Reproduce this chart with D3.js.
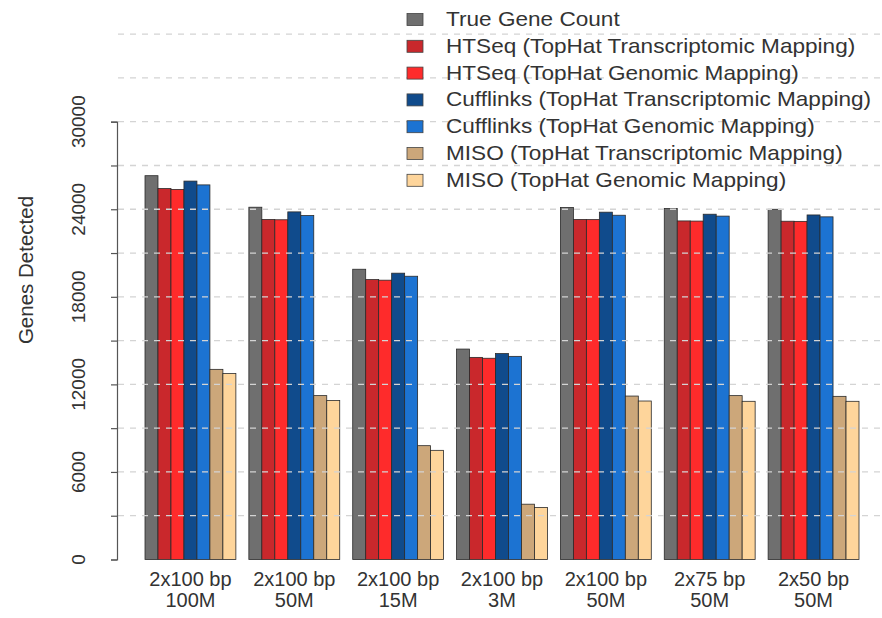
<!DOCTYPE html>
<html>
<head>
<meta charset="utf-8">
<script src="https://cdn.jsdelivr.net/npm/d3@7"></script>
<style>
  body { margin: 0; background: #fff; }
  svg { display: block; font-family: "Liberation Sans", Arial, Helvetica, sans-serif; }
</style>
</head>
<body>
<div id="chart"></div>
<script>
const groups = ["2x100 bp|100M", "2x100 bp|50M", "2x100 bp|15M", "2x100 bp|3M", "2x100 bp|50M ", "2x75 bp|50M", "2x50 bp|50M"];

const seriesNames = [
  "True Gene Count",
  "HTSeq (TopHat Transcriptomic Mapping)",
  "HTSeq (TopHat Genomic Mapping)",
  "Cufflinks (TopHat Transcriptomic Mapping)",
  "Cufflinks (TopHat Genomic Mapping)",
  "MISO (TopHat Transcriptomic Mapping)",
  "MISO (TopHat Genomic Mapping)"
];

const seriesColors = ["#6f6f6f", "#c9282c", "#fe2b2b", "#104b8c", "#1c73d2", "#cca77a", "#fed59b"];

// one array per series, values per group
const trueCount     = [26300, 24140, 19890, 14420, 24120, 24050, 24000];
const htseqTrans    = [25420, 23300, 19180, 13850, 23300, 23200, 23180];
const htseqGenomic  = [25360, 23280, 19140, 13790, 23290, 23190, 23170];
const cuffTrans     = [25930, 23820, 19620, 14110, 23800, 23660, 23610];
const cuffGenomic   = [25670, 23570, 19410, 13920, 23590, 23530, 23480];
const misoTrans     = [13030, 11230,  7800,  3790, 11200, 11230, 11180];
const misoGenomic   = [12740, 10900,  7480,  3570, 10860, 10840, 10840];

const seriesValues = [trueCount, htseqTrans, htseqGenomic, cuffTrans, cuffGenomic, misoTrans, misoGenomic];

const yTicks = d3.range(0, 30001, 3000);
const yLabels = d3.range(0, 30001, 6000);
const gridValues = d3.range(3000, 36001, 3000);

const width = 882, height = 618;

const svg = d3.select("#chart").append("svg")
  .attr("width", width)
  .attr("height", height);

const x = d3.scaleBand()
  .domain(groups)
  .range([145, 859])
  .paddingInner(0.125)
  .paddingOuter(0);

const xInner = d3.scaleBand()
  .domain(d3.range(seriesNames.length))
  .range([0, x.bandwidth()])
  .padding(0);

const y = d3.scaleLinear()
  .domain([0, 30000])
  .range([559.5, 121.7]);

// bars
const barGroups = svg.append("g").selectAll("g")
  .data(groups)
  .enter()
  .append("g")
  .attr("transform", d => `translate(${x(d)},0)`);

barGroups.selectAll("rect")
  .data((g, gi) => seriesValues.map((vals, si) => ({ si: si, v: vals[gi] })))
  .enter()
  .append("rect")
  .attr("x", d => xInner(d.si))
  .attr("width", xInner.bandwidth())
  .attr("y", d => y(d.v))
  .attr("height", d => y(0) - y(d.v))
  .attr("fill", d => seriesColors[d.si])
  .attr("stroke", "#2a2a2a")
  .attr("stroke-width", 0.8);

// dashed grid on top of the bars
svg.append("g").selectAll("line")
  .data(gridValues)
  .enter()
  .append("line")
  .attr("x1", 118)
  .attr("x2", 882)
  .attr("y1", d => y(d))
  .attr("y2", d => y(d))
  .attr("stroke", "#d4d4d4")
  .attr("stroke-width", 1.3)
  .attr("stroke-dasharray", "6,6");

// y axis
const yAxis = svg.append("g")
  .attr("transform", "translate(117,0)")
  .call(d3.axisLeft(y).tickValues(yTicks).tickSize(6).tickFormat(""));

yAxis.select(".domain").attr("stroke", "#555").attr("stroke-width", 1.2);
yAxis.selectAll(".tick line").attr("stroke", "#555").attr("stroke-width", 1.2);

svg.append("g").selectAll("text")
  .data(yLabels)
  .enter()
  .append("text")
  .attr("transform", d => `translate(84.5,${y(d)}) rotate(-90)`)
  .attr("text-anchor", "middle")
  .attr("font-size", 19)
  .attr("fill", "#333")
  .text(d => d);

svg.append("text")
  .attr("transform", "translate(33,270) rotate(-90)")
  .attr("text-anchor", "middle")
  .attr("font-size", 20.5)
  .attr("fill", "#333")
  .text("Genes Detected");

// x labels
const xLab = svg.append("g").selectAll("text")
  .data(groups)
  .enter()
  .append("text")
  .attr("text-anchor", "middle")
  .attr("font-size", 20)
  .attr("fill", "#333");

xLab.append("tspan")
  .attr("x", d => x(d) + x.bandwidth() / 2)
  .attr("y", 586)
  .text(d => d.split("|")[0]);

xLab.append("tspan")
  .attr("x", d => x(d) + x.bandwidth() / 2)
  .attr("y", 607)
  .text(d => d.split("|")[1].trim());

// legend
const legend = svg.append("g").selectAll("g")
  .data(seriesNames)
  .enter()
  .append("g")
  .attr("transform", (d, i) => `translate(407,${19.5 + i * 26.8})`);

legend.append("rect")
  .attr("x", 0)
  .attr("y", -6)
  .attr("width", 16)
  .attr("height", 12)
  .attr("fill", (d, i) => seriesColors[i])
  .attr("stroke", "#444")
  .attr("stroke-width", 0.8);

legend.append("text")
  .attr("transform", "translate(39,6.5) scale(1.13,1)")
  .attr("font-size", 20)
  .attr("fill", "#333")
  .text(d => d);
</script>
</body>
</html>
